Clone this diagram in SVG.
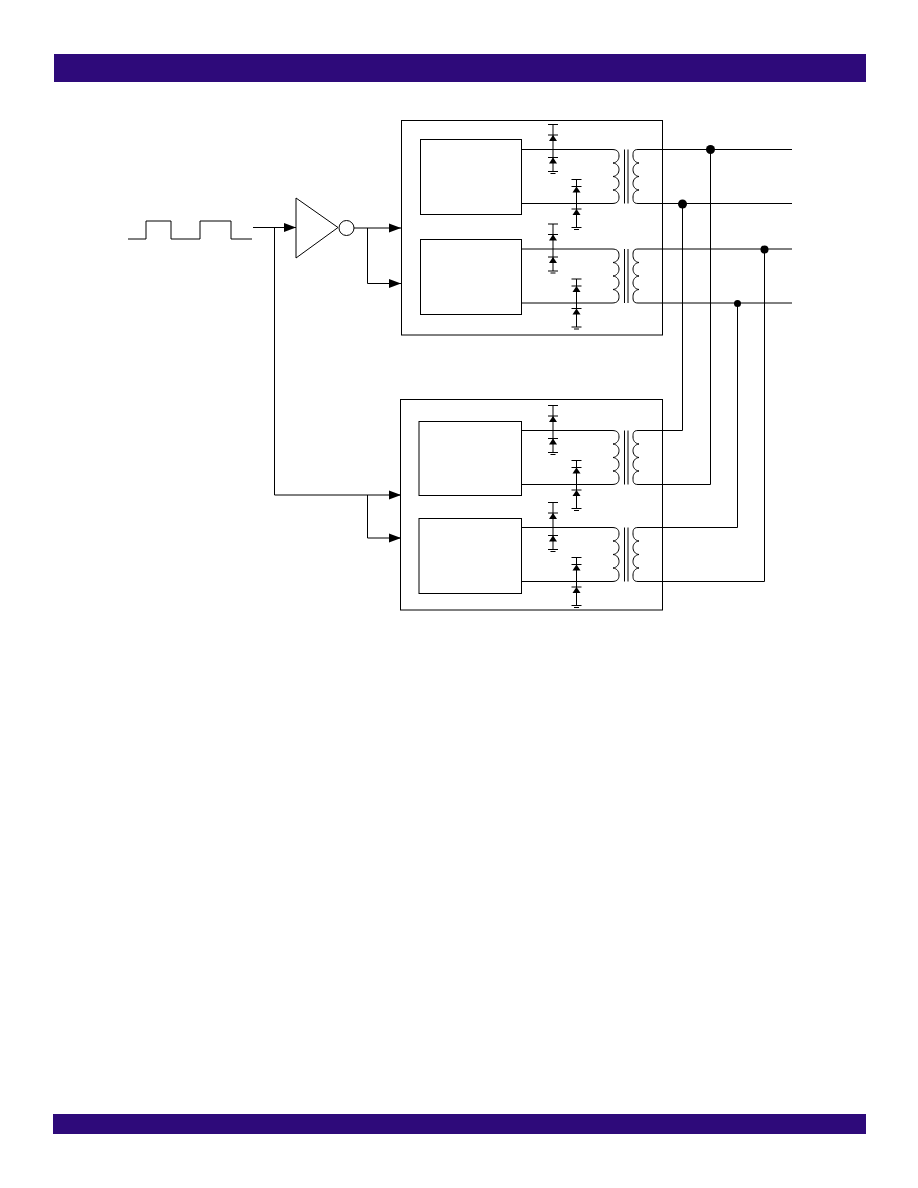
<svg xmlns="http://www.w3.org/2000/svg" xmlns:xlink="http://www.w3.org/1999/xlink" width="918" height="1188" viewBox="0 0 918 1188">
<style>
.w{fill:none;stroke:#000;stroke-width:1}
.b{fill:#fff;stroke:#000;stroke-width:1}
.t{fill:none;stroke:#000;stroke-width:1}
.bar{fill:#2e0a7a}
.d{fill:#000}
</style>
<defs>
<marker id="arrow" markerUnits="userSpaceOnUse" markerWidth="12" markerHeight="10" refX="12" refY="5" orient="auto"><path d="M0,0.5L12,5L0,9.5Z" fill="#000"/></marker>
<g id="diode"><path class="d" d="M0,-3.5L4,2.5H-4Z"/><path class="w" d="M-5,-3.5H5"/></g>
<g id="channel">
<path class="w" d="M0,0H91M91,0C97,0 98,3 98,6.5C98,10 96,13 92,13.5C96,14 98,17 98,20C98,23.5 96,26.500 92,27C96,27.500 98,30.500 98,34C98,37 96,40 92,40.500C96,41 98,44 98,47.500C98,51 97,54 91,54H0"/>
<path class="w" d="M103.500,0V54M107,0V54"/>
<path class="w" d="M117,0C112,0 112,3 112,6.500C112,10 114,13 118,13.500C114,14 112,17 112,20C112,23.500 114,26.500 118,27C114,27.500 112,30.500 112,34C112,37 114,40 118,40.500C114,41 112,44 112,47.500C112,51 112,54 117,54"/>
<path class="w" d="M32,-25V22M27,-25H37M27,22H37M29.500,24H34.500"/>
<use xlink:href="#diode" href="#diode" x="32" y="-11"/>
<use xlink:href="#diode" href="#diode" x="32" y="11.500"/>
<path class="w" d="M55.500,30V78M50.500,30H60.500M50.500,78H60.500M53,80H58"/>
<use xlink:href="#diode" href="#diode" x="55.500" y="40.500"/>
<use xlink:href="#diode" href="#diode" x="55.500" y="63"/>
</g>
</defs>
<rect id="header" class="bar" x="54" y="54" width="812" height="28"/>
<rect id="footer" class="bar" x="53" y="1114" width="813" height="20"/>
<g id="driver-top">
<rect class="b" x="401.500" y="120.500" width="261" height="214.500"/>
<rect class="b" x="420.500" y="139.500" width="101" height="75"/>
<rect class="b" x="420.500" y="239.500" width="101" height="75"/>
<use xlink:href="#channel" href="#channel" x="521" y="149.500"/>
<use xlink:href="#channel" href="#channel" x="521" y="249"/>
</g>
<g id="driver-bottom">
<rect class="b" x="400.500" y="399.500" width="262" height="210.500"/>
<rect class="b" x="419" y="421.500" width="102.500" height="74"/>
<rect class="b" x="419" y="518.500" width="102.500" height="75"/>
<use xlink:href="#channel" href="#channel" x="521" y="430.500"/>
<use xlink:href="#channel" href="#channel" x="521" y="527.500"/>
</g>
<g id="inverter">
<path class="b" d="M296,198L338,227.500L296,258Z"/>
<circle class="b" cx="346.500" cy="228" r="7.500"/>
</g>
<g id="connectors">
<path class="w" d="M128,239H146V221H171V239H200V221H231V239H252"/>
<path class="w" d="M253,227.500H296" marker-end="url(#arrow)"/>
<path class="w" d="M274.500,227.500V495H401" marker-end="url(#arrow)"/>
<path class="w" d="M367.500,495V538H401" marker-end="url(#arrow)"/>
<path class="w" d="M354,228H401" marker-end="url(#arrow)"/>
<path class="w" d="M367.500,228V283.500H401" marker-end="url(#arrow)"/>
<path class="w" d="M638,149.500H792M638,203.500H792M638,249H792M638,303H792"/>
<path class="w" d="M638,430.500H682.500V204"/>
<path class="w" d="M638,484.500H710.500V149.500"/>
<path class="w" d="M638,527.500H737.500V303"/>
<path class="w" d="M638,581.500H764.500V249"/>
<circle class="d" cx="710.500" cy="149.500" r="4.500"/>
<circle class="d" cx="682.500" cy="204" r="4.500"/>
<circle class="d" cx="764.500" cy="249.500" r="4"/>
<circle class="d" cx="737.500" cy="303.500" r="3.500"/>
</g>
</svg>
